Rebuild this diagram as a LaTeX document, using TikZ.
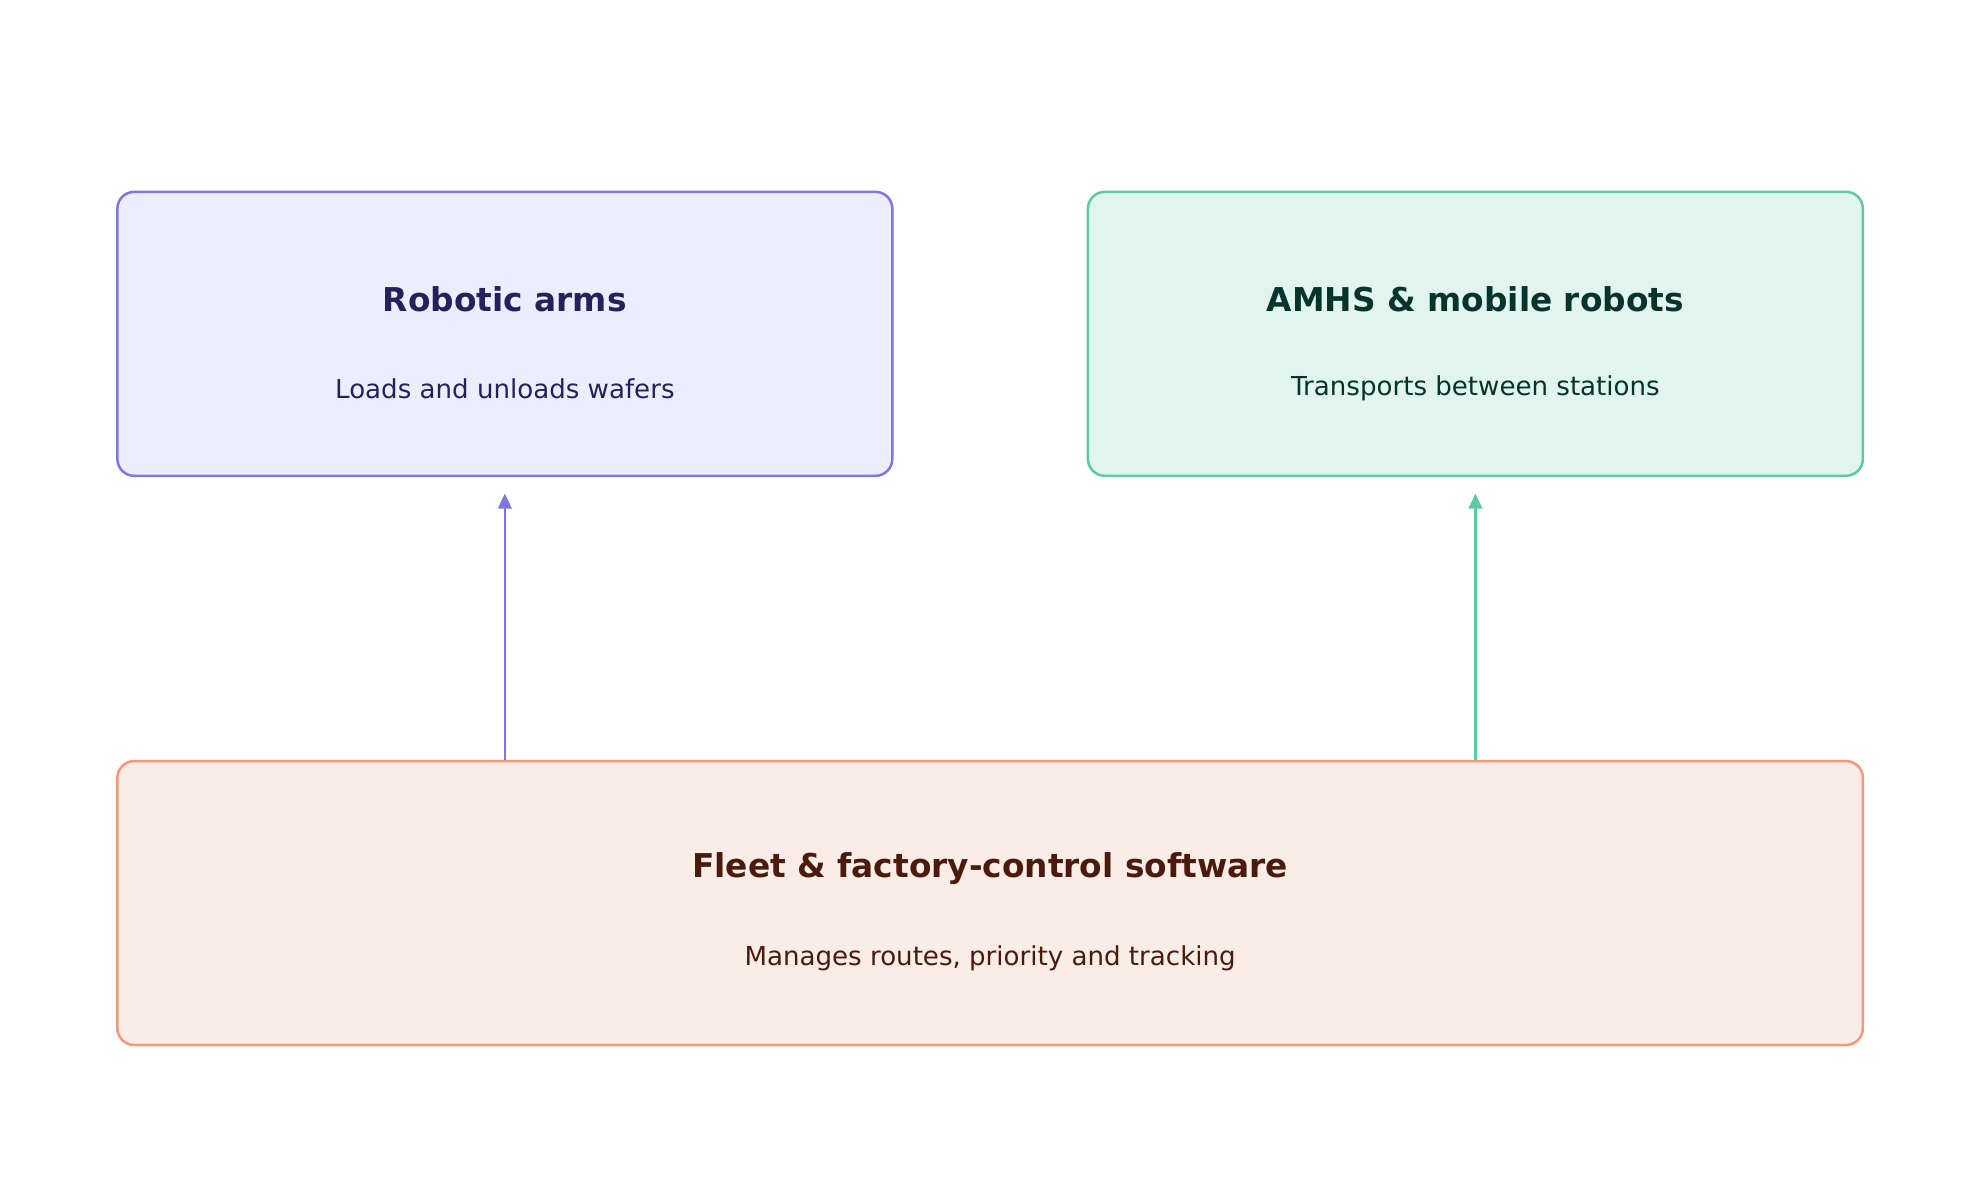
\documentclass[tikz,border=0pt]{standalone}
\usepackage{fontspec}
\setmainfont{DejaVu Sans}
\usetikzlibrary{arrows.meta}
\definecolor{armline}{HTML}{7F77DD}
\definecolor{armfill}{HTML}{EEEDFE}
\definecolor{armtext}{HTML}{26215C}
\definecolor{amhsline}{HTML}{5DCAA5}
\definecolor{amhsfill}{HTML}{E1F5EE}
\definecolor{amhstext}{HTML}{04342C}
\definecolor{fleetline}{HTML}{F0997B}
\definecolor{fleetfill}{HTML}{FAECE7}
\definecolor{fleettext}{HTML}{4A1B0C}

\begin{document}
\begin{tikzpicture}[
    x=0.75pt, y=-0.75pt,
    box/.style={
      draw, rounded corners=10pt, line width=1.5pt,
      minimum height=168.75pt, inner sep=0pt
    },
    title/.style={
      font=\fontsize{19.5}{22}\selectfont\bfseries
    },
    sub/.style={
      font=\fontsize{15.5}{18}\selectfont
    },
    arrowtip/.style={
      line width=1.5pt, -{Triangle[length=9pt,width=8pt]}, shorten >=9.75pt
    }
  ]
    \useasboundingbox (0,0) rectangle (1568,935);

    \node[box, draw=armline, fill=armfill, minimum width=460.5pt] (arms) at (400,264.5) {};
    \node[box, draw=amhsline, fill=amhsfill, minimum width=460.5pt] (amhs) at (1169,264.5) {};
    \node[box, draw=fleetline, fill=fleetfill, minimum width=1037.25pt] (fleet) at (784.5,715.5) {};

    \node[title, text=armtext] (armsT) at (400,237) {Robotic arms};
    \node[sub, text=armtext] (armsS) at (400,308) {Loads and unloads wafers};
    \node[title, text=amhstext] (amhsT) at (1169,237) {AMHS \& mobile robots};
    \node[sub, text=amhstext] (amhsS) at (1169,308) {Transports between stations};
    \node[title, text=fleettext] (fleetT) at (784.5,688) {Fleet \& factory-control software};
    \node[sub, text=fleettext] (fleetS) at (784.5,759) {Manages routes, priority and tracking};

    \draw[arrowtip, armline] (fleet.north -| arms.south) -- (arms.south);
    \draw[arrowtip, amhsline] (fleet.north -| amhs.south) -- (amhs.south);
\end{tikzpicture}
\end{document}
